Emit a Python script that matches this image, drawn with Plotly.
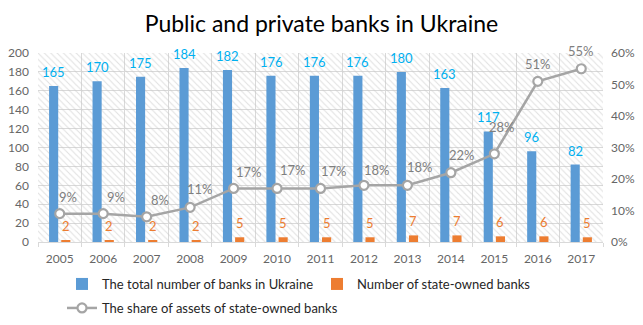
import plotly.graph_objects as go

# Data
years = ["2005", "2006", "2007", "2008", "2009", "2010", "2011",
         "2012", "2013", "2014", "2015", "2016", "2017"]
total_banks = [165, 170, 175, 184, 182, 176, 176, 176, 180, 163, 117, 96, 82]
state_banks = [2, 2, 2, 2, 5, 5, 5, 5, 7, 7, 6, 6, 5]
state_share = [9, 9, 8, 11, 17, 17, 17, 18, 18, 22, 28, 51, 55]  # percent

# label placement tweaks for the share line (pixels)
share_dx = [8, 13, 13, 10, 15, 16, 13, 13, 13, 11, 8, 0, 0]
share_dy = [17, 17, 17, 18, 16, 18, 17, 15, 18, 18, 27, 17, 18]

Y_MAX = 200
FONT = "Lato, Liberation Sans, sans-serif"
BLUE = "#5b9bd5"
ORANGE = "#ed7d31"
GREY = "#a5a5a5"
GRID = "#d9d9d9"
TICK = "#666666"

BAR_W = 0.21

fig = go.Figure()

# hatched plot background: full-width bars spanning the whole value range
fig.add_trace(go.Bar(
    x=years, y=[Y_MAX] * len(years), width=1, offset=-0.5,
    marker=dict(color="rgba(0,0,0,0)", line=dict(width=0),
                pattern=dict(shape="\\", fgcolor="#c4c4c4",
                             bgcolor="rgba(0,0,0,0)", size=4.5, solidity=0.25)),
    hoverinfo="skip", showlegend=False))

fig.add_trace(go.Bar(
    x=years, y=total_banks, name="The total number of banks in Ukraine",
    width=BAR_W, offset=-0.14 - BAR_W / 2,
    marker=dict(color=BLUE, line=dict(width=0)), legend="legend"))
fig.add_trace(go.Bar(
    x=years, y=state_banks, name="Number of state-owned banks",
    width=BAR_W, offset=0.14 - BAR_W / 2,
    marker=dict(color=ORANGE, line=dict(width=0)), legend="legend"))
fig.add_trace(go.Scatter(
    x=years, y=[v / 100 for v in state_share],
    name="The share of assets of state-owned banks",
    mode="lines+markers", line=dict(color=GREY, width=2.5),
    marker=dict(symbol="circle", size=9, color="white",
                line=dict(color=GREY, width=2.2)),
    yaxis="y2", legend="legend2"))

# value labels (category axes take the category index for annotations)
annotations = []
for i, v in enumerate(total_banks):
    annotations.append(dict(x=i, y=v, xref="x", yref="y", text=str(v),
                            showarrow=False, xshift=-6, yshift=14,
                            font=dict(family=FONT, size=13, color="#00b0f0")))
for i, v in enumerate(state_banks):
    annotations.append(dict(x=i, y=v, xref="x", yref="y", text=str(v),
                            showarrow=False, xshift=6, yshift=14,
                            font=dict(family=FONT, size=13, color=ORANGE)))
for i, (v, dx, dy) in enumerate(zip(state_share, share_dx, share_dy)):
    annotations.append(dict(x=i, y=v / 100, xref="x", yref="y2",
                            text=f"{v}%", showarrow=False, xshift=dx, yshift=dy,
                            font=dict(family=FONT, size=13, color="#7f7f7f")))

fig.update_layout(
    width=643, height=325,
    margin=dict(l=38, r=40, t=53, b=83, autoexpand=False),
    paper_bgcolor="white", plot_bgcolor="white",
    font=dict(family=FONT, size=12, color=TICK),
    title=dict(text="Public and private banks in Ukraine",
               x=0.5, xanchor="center", y=1 - 24 / 325, yanchor="middle",
               font=dict(family=FONT, size=23, color="#000000")),
    barmode="overlay",
    xaxis=dict(type="category", range=[-0.5, len(years) - 0.5],
               showgrid=True, gridcolor=GRID, gridwidth=1,
               tickson="boundaries", ticks="outside", ticklen=4,
               tickcolor=GRID, showline=True, linecolor=GRID, linewidth=1,
               ticklabelstandoff=6, automargin=False,
               tickfont=dict(family=FONT, size=12, color=TICK)),
    yaxis=dict(range=[0, Y_MAX], dtick=20, showgrid=True, gridcolor=GRID,
               gridwidth=1, zeroline=False, showline=False, ticks="",
               ticklabelstandoff=8, automargin=False,
               tickfont=dict(family=FONT, size=12, color=TICK)),
    yaxis2=dict(range=[0, 0.6], dtick=0.1, tickformat=".0%", overlaying="y",
                side="right", showgrid=False, zeroline=False,
                showline=False, ticks="", ticklabelstandoff=7,
                automargin=False,
                tickfont=dict(family=FONT, size=12, color=TICK)),
    legend=dict(orientation="h", xref="container", yref="container",
                x=62 / 643, y=1 - 284 / 325, xanchor="left", yanchor="middle",
                entrywidth=210, bgcolor="rgba(0,0,0,0)",
                font=dict(family=FONT, size=13, color="#262626")),
    legend2=dict(orientation="h", xref="container", yref="container",
                 x=62 / 643, y=1 - 308 / 325, xanchor="left", yanchor="middle",
                 bgcolor="rgba(0,0,0,0)",
                 font=dict(family=FONT, size=13, color="#262626")),
    annotations=annotations,
    showlegend=True,
)

fig.write_html("out.html")
